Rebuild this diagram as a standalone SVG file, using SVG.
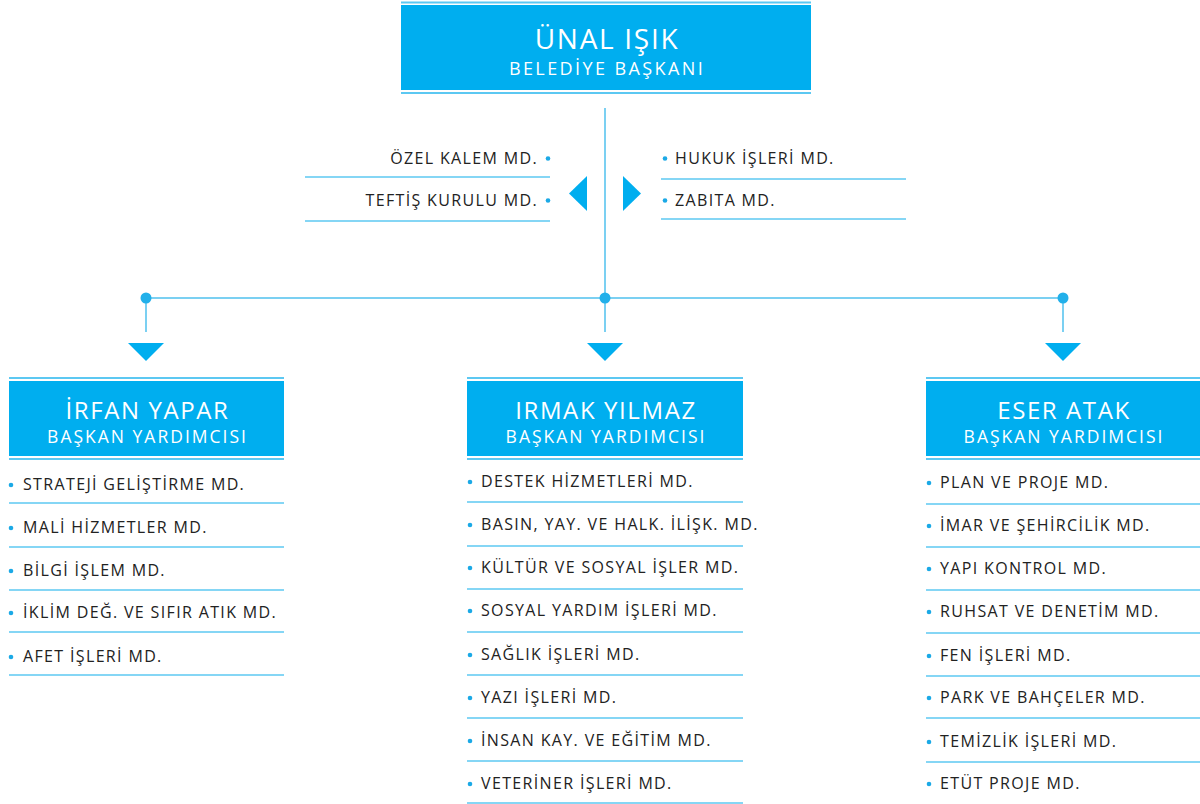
<svg xmlns="http://www.w3.org/2000/svg" width="1200" height="804" viewBox="0 0 1200 804">
<style>
.box{fill:#00aeef}
.hl{stroke:#5cc8f2;stroke-width:2;fill:none}
.ln{stroke:#5cc8f2;stroke-width:1.5;fill:none}
.con{stroke:#4fc0ee;stroke-width:1.5;fill:none}
.tri{fill:#00aeef}
.dot{fill:#22b0ea}
.bul{fill:#1ba9e6}
.t{font-family:"Open Sans","Noto Sans",sans-serif;font-size:16px;letter-spacing:1.35px;fill:#222}
.nm{font-family:"Open Sans","Noto Sans",sans-serif;font-size:24px;letter-spacing:1.6px;fill:#fff;text-anchor:middle}
.sb{font-family:"Open Sans","Noto Sans",sans-serif;font-size:17.5px;letter-spacing:2px;fill:#fff;text-anchor:middle}
</style>
<rect width="1200" height="804" fill="#fff"/>

<g id="connectors">
  <line class="con" x1="605" y1="108" x2="605" y2="332"/>
  <line class="con" x1="146" y1="298" x2="1063" y2="298"/>
  <line class="con" x1="146" y1="298" x2="146" y2="332"/>
  <line class="con" x1="1063" y1="298" x2="1063" y2="332"/>
  <circle class="dot" cx="146" cy="298" r="5.5"/>
  <circle class="dot" cx="605" cy="298" r="5.5"/>
  <circle class="dot" cx="1063" cy="298" r="5.5"/>
  <polygon class="tri" points="128,343 164,343 146,361"/>
  <polygon class="tri" points="587,343 623,343 605,361"/>
  <polygon class="tri" points="1045,343 1081,343 1063,361"/>
  <polygon class="tri" points="587,176 587,211 569,193.5"/>
  <polygon class="tri" points="623,176 623,211 641,193.5"/>
</g>

<g id="baskan">
  <line class="hl" x1="401" y1="2.5" x2="811" y2="2.5"/>
  <rect class="box" x="401" y="5" width="410" height="85"/>
  <line class="hl" x1="401" y1="93" x2="811" y2="93"/>
  <text class="nm" x="607" y="49" style="font-size:28px;letter-spacing:1.7px">ÜNAL IŞIK</text>
  <text class="sb" x="607" y="75" style="font-size:18px;letter-spacing:2.4px">BELEDİYE BAŞKANI</text>
</g>

<g id="staff-left">
  <text class="t" x="538" y="164" text-anchor="end">ÖZEL KALEM MD.</text>
  <circle class="bul" cx="548" cy="158.5" r="2.3"/>
  <line class="ln" x1="305" y1="177" x2="550" y2="177"/>
  <text class="t" x="538" y="206" text-anchor="end">TEFTİŞ KURULU MD.</text>
  <circle class="bul" cx="548" cy="200.5" r="2.3"/>
  <line class="ln" x1="305" y1="221" x2="550" y2="221"/>
</g>

<g id="staff-right">
  <circle class="bul" cx="665" cy="158.5" r="2.3"/>
  <text class="t" x="675" y="164">HUKUK İŞLERİ MD.</text>
  <line class="ln" x1="661" y1="179" x2="906" y2="179"/>
  <circle class="bul" cx="665" cy="200.5" r="2.3"/>
  <text class="t" x="675" y="206">ZABITA MD.</text>
  <line class="ln" x1="661" y1="219" x2="906" y2="219"/>
</g>

<g id="irfan-yapar">
  <line class="hl" x1="9" y1="378" x2="284" y2="378"/>
  <rect class="box" x="9" y="381" width="275" height="75"/>
  <line class="hl" x1="9" y1="459" x2="284" y2="459"/>
  <text class="nm" x="147.5" y="419">İRFAN YAPAR</text>
  <text class="sb" x="147.5" y="443">BAŞKAN YARDIMCISI</text>
  <g>
    <circle class="bul" cx="11" cy="485" r="2.3"/><text class="t" x="23" y="490">STRATEJİ GELİŞTİRME MD.</text>
    <line class="ln" x1="9" y1="503" x2="284" y2="503"/>
    <circle class="bul" cx="11" cy="528" r="2.3"/><text class="t" x="23" y="533">MALİ HİZMETLER MD.</text>
    <line class="ln" x1="9" y1="547" x2="284" y2="547"/>
    <circle class="bul" cx="11" cy="571" r="2.3"/><text class="t" x="23" y="576">BİLGİ İŞLEM MD.</text>
    <line class="ln" x1="9" y1="590" x2="284" y2="590"/>
    <circle class="bul" cx="11" cy="613" r="2.3"/><text class="t" x="23" y="618">İKLİM DEĞ. VE SIFIR ATIK MD.</text>
    <line class="ln" x1="9" y1="632" x2="284" y2="632"/>
    <circle class="bul" cx="11" cy="657" r="2.3"/><text class="t" x="23" y="662">AFET İŞLERİ MD.</text>
    <line class="ln" x1="9" y1="675" x2="284" y2="675"/>
  </g>
</g>

<g id="irmak-yilmaz">
  <line class="hl" x1="467" y1="378" x2="743" y2="378"/>
  <rect class="box" x="467" y="381" width="276" height="75"/>
  <line class="hl" x1="467" y1="459" x2="743" y2="459"/>
  <text class="nm" x="606" y="419">IRMAK YILMAZ</text>
  <text class="sb" x="606" y="443">BAŞKAN YARDIMCISI</text>
  <g>
    <circle class="bul" cx="470" cy="482" r="2.3"/><text class="t" x="481" y="487">DESTEK HİZMETLERİ MD.</text>
    <line class="ln" x1="467" y1="502" x2="743" y2="502"/>
    <circle class="bul" cx="470" cy="525" r="2.3"/><text class="t" x="481" y="530">BASIN, YAY. VE HALK. İLİŞK. MD.</text>
    <line class="ln" x1="467" y1="546" x2="743" y2="546"/>
    <circle class="bul" cx="470" cy="568" r="2.3"/><text class="t" x="481" y="573">KÜLTÜR VE SOSYAL İŞLER MD.</text>
    <line class="ln" x1="467" y1="589" x2="743" y2="589"/>
    <circle class="bul" cx="470" cy="611" r="2.3"/><text class="t" x="481" y="616">SOSYAL YARDIM İŞLERİ MD.</text>
    <line class="ln" x1="467" y1="632" x2="743" y2="632"/>
    <circle class="bul" cx="470" cy="655" r="2.3"/><text class="t" x="481" y="660">SAĞLIK İŞLERİ MD.</text>
    <line class="ln" x1="467" y1="675" x2="743" y2="675"/>
    <circle class="bul" cx="470" cy="698" r="2.3"/><text class="t" x="481" y="703">YAZI İŞLERİ MD.</text>
    <line class="ln" x1="467" y1="718" x2="743" y2="718"/>
    <circle class="bul" cx="470" cy="741" r="2.3"/><text class="t" x="481" y="746">İNSAN KAY. VE EĞİTİM MD.</text>
    <line class="ln" x1="467" y1="761" x2="743" y2="761"/>
    <circle class="bul" cx="470" cy="784" r="2.3"/><text class="t" x="481" y="789">VETERİNER İŞLERİ MD.</text>
    <line class="ln" x1="467" y1="803" x2="743" y2="803"/>
  </g>
</g>

<g id="eser-atak">
  <line class="hl" x1="926" y1="378" x2="1200" y2="378"/>
  <rect class="box" x="926" y="381" width="274" height="75"/>
  <line class="hl" x1="926" y1="459" x2="1200" y2="459"/>
  <text class="nm" x="1064" y="419">ESER ATAK</text>
  <text class="sb" x="1064" y="443">BAŞKAN YARDIMCISI</text>
  <g>
    <circle class="bul" cx="929" cy="483" r="2.3"/><text class="t" x="940" y="488">PLAN VE PROJE MD.</text>
    <line class="ln" x1="926" y1="504" x2="1200" y2="504"/>
    <circle class="bul" cx="929" cy="526" r="2.3"/><text class="t" x="940" y="531">İMAR VE ŞEHİRCİLİK MD.</text>
    <line class="ln" x1="926" y1="547" x2="1200" y2="547"/>
    <circle class="bul" cx="929" cy="569" r="2.3"/><text class="t" x="940" y="574">YAPI KONTROL MD.</text>
    <line class="ln" x1="926" y1="590" x2="1200" y2="590"/>
    <circle class="bul" cx="929" cy="612" r="2.3"/><text class="t" x="940" y="617">RUHSAT VE DENETİM MD.</text>
    <line class="ln" x1="926" y1="633" x2="1200" y2="633"/>
    <circle class="bul" cx="929" cy="656" r="2.3"/><text class="t" x="940" y="661">FEN İŞLERİ MD.</text>
    <line class="ln" x1="926" y1="676" x2="1200" y2="676"/>
    <circle class="bul" cx="929" cy="698" r="2.3"/><text class="t" x="940" y="703">PARK VE BAHÇELER MD.</text>
    <line class="ln" x1="926" y1="718" x2="1200" y2="718"/>
    <circle class="bul" cx="929" cy="742" r="2.3"/><text class="t" x="940" y="747">TEMİZLİK İŞLERİ MD.</text>
    <line class="ln" x1="926" y1="762" x2="1200" y2="762"/>
    <circle class="bul" cx="929" cy="784" r="2.3"/><text class="t" x="940" y="789">ETÜT PROJE MD.</text>
  </g>
</g>
</svg>
